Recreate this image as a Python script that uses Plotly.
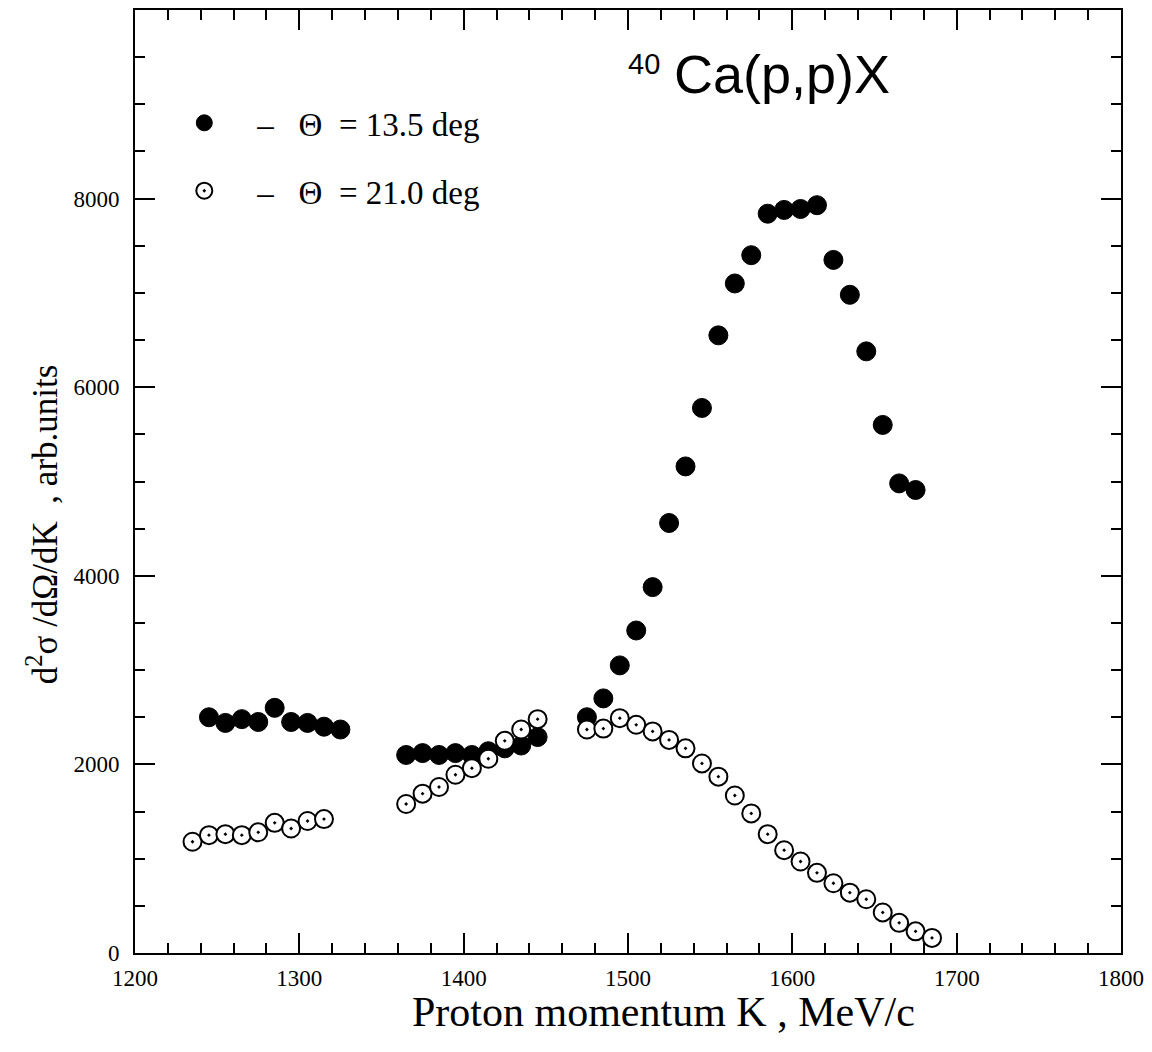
import plotly.graph_objects as go

# Proton momentum K (MeV/c) and double-differential cross sections (arb. units)
k_135 = [1245, 1255, 1265, 1275, 1285, 1295, 1305, 1315, 1325,
         1365, 1375, 1385, 1395, 1405, 1415, 1425, 1435, 1445,
         1475, 1485, 1495, 1505, 1515, 1525, 1535, 1545, 1555, 1565,
         1575, 1585, 1595, 1605, 1615, 1625, 1635, 1645, 1655, 1665, 1675]
sig_135 = [2500, 2440, 2480, 2450, 2600, 2450, 2440, 2400, 2370,
           2100, 2120, 2100, 2120, 2100, 2140, 2170, 2200, 2290,
           2500, 2700, 3050, 3420, 3880, 4560, 5160, 5780, 6550, 7100,
           7400, 7840, 7880, 7890, 7930, 7350, 6980, 6380, 5600, 4980, 4910]

k_210 = [1235, 1245, 1255, 1265, 1275, 1285, 1295, 1305, 1315,
         1365, 1375, 1385, 1395, 1405, 1415, 1425, 1435, 1445,
         1475, 1485, 1495, 1505, 1515, 1525, 1535, 1545, 1555, 1565, 1575,
         1585, 1595, 1605, 1615, 1625, 1635, 1645, 1655, 1665, 1675, 1685]
sig_210 = [1180, 1250, 1260, 1250, 1280, 1380, 1320, 1400, 1420,
           1580, 1690, 1760, 1890, 1960, 2060, 2250, 2370, 2480,
           2370, 2380, 2490, 2420, 2350, 2260, 2170, 2010, 1870, 1670, 1480,
           1260, 1090, 970, 850, 740, 640, 570, 430, 320, 230, 160]

x_tickvals = [1200, 1300, 1400, 1500, 1600, 1700, 1800]
y_tickvals = [0, 2000, 4000, 6000, 8000]

SERIF = "Liberation Serif, Times New Roman, serif"
SANS = "Liberation Sans, Arial, sans-serif"
NB = "\u00a0"

fig = go.Figure()

fig.add_trace(go.Scatter(
    x=k_135, y=sig_135, mode="markers",
    name=f"{NB*4}–{NB*3}Θ{NB*2}= 13.5 deg", legendgroup="a",
    marker=dict(symbol="circle", size=19, color="black",
                line=dict(color="black", width=1)),
))
fig.add_trace(go.Scatter(
    x=k_210, y=sig_210, mode="markers",
    name=f"{NB*4}–{NB*3}Θ{NB*2}= 21.0 deg", legendgroup="b",
    marker=dict(symbol="circle-dot", size=18, color="white",
                line=dict(color="black", width=2)),
))

axis_common = dict(
    showgrid=False, zeroline=False, showline=True, linecolor="black",
    linewidth=2, mirror="ticks", ticks="inside", tickcolor="black",
    tickwidth=2, ticklen=20,
    tickfont=dict(family=SERIF, size=23, color="black"),
)

fig.update_xaxes(
    range=[1200, 1800], tickvals=x_tickvals,
    minor=dict(dtick=20, tick0=1200, ticks="inside", ticklen=10,
               tickwidth=2, tickcolor="black", showgrid=False),
    ticklabelstandoff=3,
    **axis_common,
)
fig.update_yaxes(
    range=[0, 10000], tickvals=y_tickvals,
    minor=dict(dtick=500, tick0=0, ticks="inside", ticklen=10,
               tickwidth=2, tickcolor="black", showgrid=False),
    ticklabelstandoff=9,
    **axis_common,
)

annotations = [
    dict(text="Proton momentum K , MeV/c", xref="paper", yref="paper",
         x=0.536, y=-0.0624, xanchor="center", yanchor="middle",
         showarrow=False, font=dict(family=SERIF, size=42, color="black")),
    dict(text=f"d<sup>2</sup>σ /dΩ/dK{NB}{NB}, arb.units", xref="paper", yref="paper",
         x=-0.093, y=0.455, xanchor="center", yanchor="middle", textangle=-90,
         showarrow=False, font=dict(family=SERIF, size=35, color="black")),
    dict(text="40", xref="paper", yref="paper",
         x=0.498, y=0.943, xanchor="left", yanchor="middle",
         showarrow=False, font=dict(family=SANS, size=29, color="black")),
    dict(text="Ca(p,p)X", xref="paper", yref="paper",
         x=0.5446, y=0.932, xanchor="left", yanchor="middle",
         showarrow=False, font=dict(family=SANS, size=54, color="black")),
]

fig.update_layout(
    width=1152, height=1052,
    margin=dict(l=135, r=29, t=8, b=99),
    paper_bgcolor="white", plot_bgcolor="white",
    annotations=annotations,
    showlegend=True,
    legend=dict(x=0.05, y=0.91, xanchor="left", yanchor="top",
                bgcolor="rgba(0,0,0,0)", borderwidth=0,
                traceorder="grouped", tracegroupgap=22,
                font=dict(family=SERIF, size=33, color="black")),
)

fig.write_html("out.html")
